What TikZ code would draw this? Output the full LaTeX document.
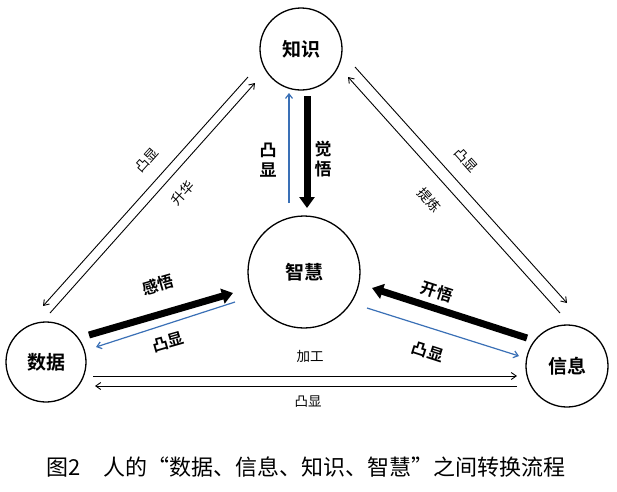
\documentclass[tikz,border=0pt]{standalone}
\usepackage{fontspec}
\setmainfont{Noto Sans CJK SC}[BoldFont={Noto Sans CJK SC Bold}]
\usetikzlibrary{arrows.meta}
\definecolor{hlblue}{RGB}{58,112,182}
\begin{document}
\begin{tikzpicture}[x=1pt,y=-1pt,
  circ/.style={circle,draw,line width=1.3pt,minimum size=82pt,inner sep=0pt,font=\bfseries\fontsize{19}{19}\selectfont},
  thinarr/.style={line width=0.9pt,-{Straight Barb[length=5pt,width=7pt]}},
  bluearr/.style={hlblue,line width=1.2pt,-{Straight Barb[length=4.5pt,width=7pt]}},
  thickarr/.style={line width=7pt,-{Triangle[length=11pt,width=15pt]}},
  lbl/.style={font=\fontsize{13.5}{13.5}\selectfont,inner sep=1pt},
  blbl/.style={font=\bfseries\fontsize{16}{16}\selectfont},
  vlbl/.style={font=\bfseries\fontsize{17}{20}\selectfont,align=center}]
\useasboundingbox (0,0) rectangle (617,491);
\node[circ] (K) at (301,49) {知识};
\node[circ,minimum size=112pt] (W) at (304,272) {智慧};
\node[circ,minimum size=80pt] (D) at (46,362) {数据};
\node[circ] (X) at (567,366) {信息};
% left diagonal
\draw[thinarr] ([shift={(-53,28)}]K.center) -- ([shift={(-3,-56)}]D.center);
\draw[thinarr] ([shift={(4,-49)}]D.center) -- ([shift={(-46,34)}]K.center);
% right diagonal
\draw[thinarr] ([shift={(54,18)}]K.center) -- ([shift={(0,-63)}]X.center);
\draw[thinarr] ([shift={(-7,-53)}]X.center) -- ([shift={(47,28)}]K.center);
% vertical
\draw[bluearr] ([shift={(-15,-69)}]W.center) -- ([shift={(-12,44)}]K.center);
\draw[thickarr] ([shift={(6,47)}]K.center) -- ([shift={(3,-64)}]W.center);
% left middle
\draw[thickarr] ([shift={(43,-27)}]D.center) -- ([shift={(-71,21)}]W.center);
\draw[bluearr] ([shift={(-69,30)}]W.center) -- ([shift={(50,-15)}]D.center);
% right middle
\draw[thickarr] ([shift={(-40,-28)}]X.center) -- ([shift={(68,16)}]W.center);
\draw[bluearr] ([shift={(63,36)}]W.center) -- ([shift={(-48,-10)}]X.center);
% bottom
\draw[thinarr] ([shift={(47,14)}]D.center) -- ([shift={(-50,10)}]X.center);
\draw[thinarr] ([shift={(-50,20)}]X.center) -- ([shift={(49,24)}]D.center);
% labels
\node[lbl,rotate=48] (l1) at (147,160) {凸显};
\node[lbl,rotate=48] (l2) at (183,193) {升华};
\node[lbl,rotate=-48] (l3) at (466,160) {凸显};
\node[lbl,rotate=-48] (l4) at (429,200) {提炼};
\node[vlbl] (l5) at (268,160) {凸\\显};
\node[vlbl] (l6) at (323,159) {觉\\悟};
\node[blbl,rotate=16] (l7) at (158,285) {感悟};
\node[blbl,rotate=16] (l8) at (168,342) {凸显};
\node[blbl,rotate=-18] (l9) at (437,292) {开悟};
\node[blbl,rotate=-18] (l10) at (428,352) {凸显};
\node[lbl] (l11) at (310,356) {加工};
\node[lbl] (l12) at (308,402) {凸显};
\node[font=\fontsize{22}{22}\selectfont] (cap) at (306,467) {图2　人的“数据、信息、知识、智慧”之间转换流程};
\end{tikzpicture}
\end{document}
